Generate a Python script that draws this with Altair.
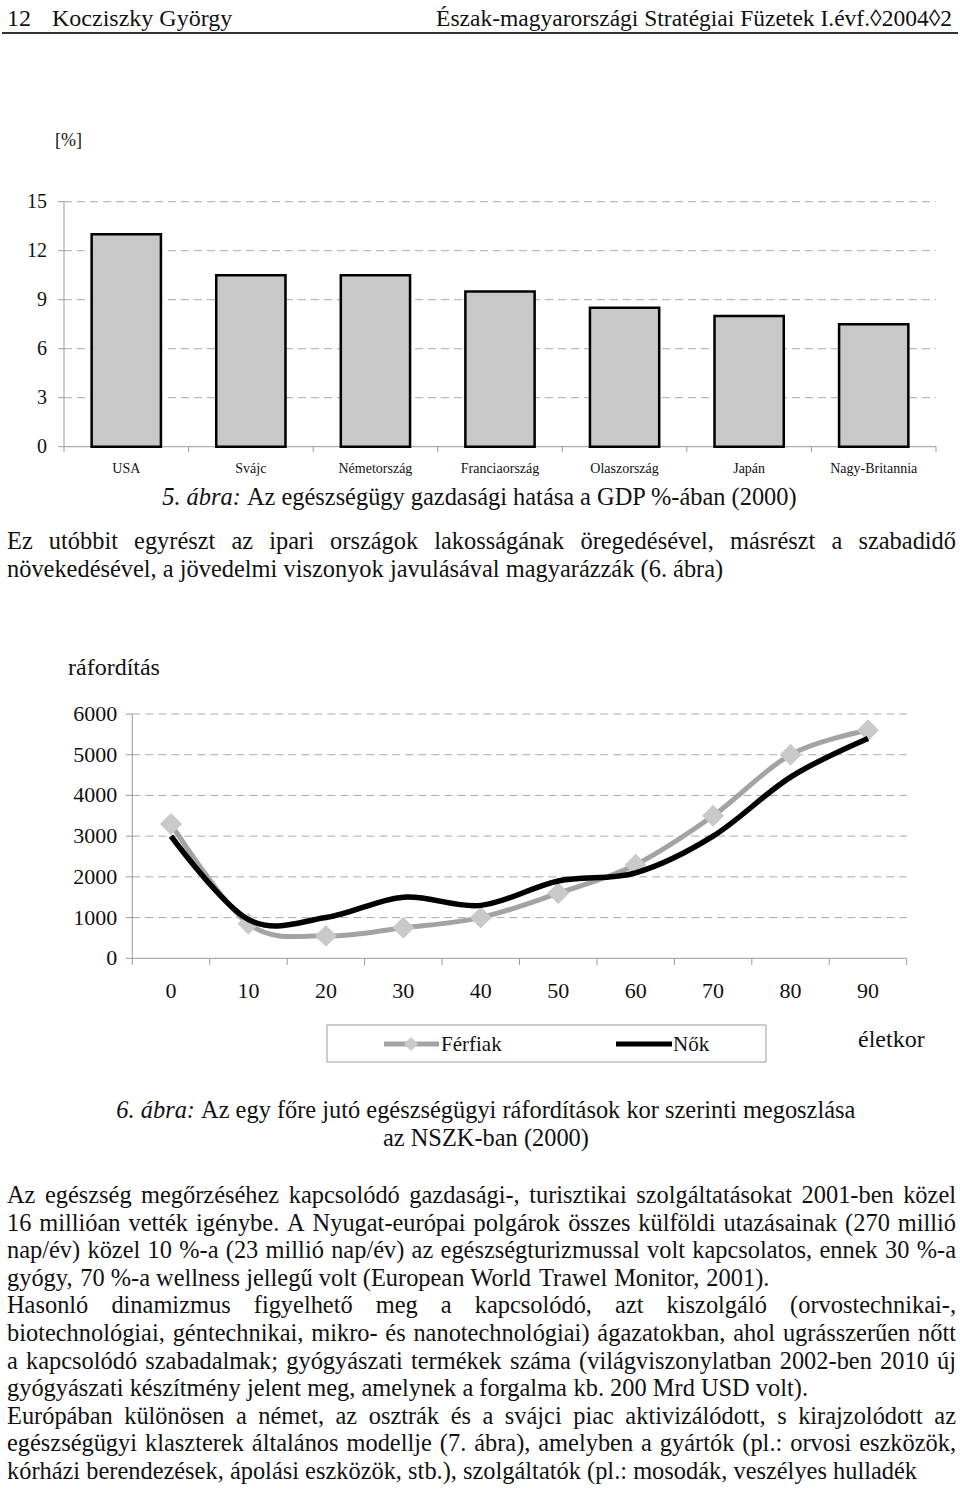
import altair as alt
import pandas as pd

# ---------------- data ----------------
countries = ["USA", "Svájc", "Németország", "Franciaország", "Olaszország", "Japán", "Nagy-Britannia"]
gdp_share = [13.0, 10.5, 10.5, 9.5, 8.5, 8.0, 7.5]
bar_ticks = [0, 3, 6, 9, 12, 15]

ages = [0, 10, 20, 30, 40, 50, 60, 70, 80, 90]
men = [3300, 850, 550, 750, 1000, 1600, 2300, 3500, 5000, 5600]
women = [3000, 950, 1000, 1500, 1300, 1900, 2100, 3000, 4450, 5400]
line_ticks = [0, 1000, 2000, 3000, 4000, 5000, 6000]
series_names = ["Férfiak", "Nők"]

header_left_no = "12"
header_author = "Kocziszky György"
header_right = "Észak-magyarországi Stratégiai Füzetek I.évf.◊2004◊2"
bar_unit = "[%]"
cap5_it = "5. ábra:"
cap5_txt = "Az egészségügy gazdasági hatása a GDP %-ában (2000)"
para1 = [
    ("Ez utóbbit egyrészt az ipari országok lakosságának öregedésével, másrészt a szabadidő", True),
    ("növekedésével, a jövedelmi viszonyok javulásával magyarázzák (6. ábra)", False),
]
line_ytitle = "ráfordítás"
line_xtitle = "életkor"
cap6_it = "6. ábra:"
cap6_txt1 = "Az egy főre jutó egészségügyi ráfordítások kor szerinti megoszlása"
cap6_txt2 = "az NSZK-ban (2000)"
para2 = [
    ("Az egészség megőrzéséhez kapcsolódó gazdasági-, turisztikai szolgáltatásokat 2001-ben közel", True),
    ("16 millióan vették igénybe. A Nyugat-európai polgárok összes külföldi utazásainak (270 millió", True),
    ("nap/év) közel 10 %-a (23 millió nap/év) az egészségturizmussal volt kapcsolatos, ennek 30 %-a", True),
    ("gyógy, 70 %-a wellness jellegű volt (European World Trawel Monitor, 2001).", False),
    ("Hasonló dinamizmus figyelhető meg a kapcsolódó, azt kiszolgáló (orvostechnikai-,", True),
    ("biotechnológiai, géntechnikai, mikro- és nanotechnológiai) ágazatokban, ahol ugrásszerűen nőtt", True),
    ("a kapcsolódó szabadalmak; gyógyászati termékek száma (világviszonylatban 2002-ben 2010 új", True),
    ("gyógyászati készítmény jelent meg, amelynek a forgalma kb. 200 Mrd USD volt).", False),
    ("Európában különösen a német, az osztrák és a svájci piac aktivizálódott, s kirajzolódott az", True),
    ("egészségügyi klaszterek általános modellje (7. ábra), amelyben a gyártók (pl.: orvosi eszközök,", True),
    ("kórházi berendezések, ápolási eszközök, stb.), szolgáltatók (pl.: mosodák, veszélyes hulladék", False),
]

# ---------------- text metrics (Times / Liberation Serif, 1/1000 em) ----------------
FONT = "Liberation Serif"
ROMAN = {}
for chars, w in [
    ("aceźzáéä", 444), ("bdghknopquvxy0123456789óöőúüű", 500), ("fr-()[]I", 333),
    ("ijlt:;/í", 278), ("sJ", 389), ("m", 778), ("wADGHKNOQUVXYÖÜÓ", 722), (" .,", 250),
    ("BCR", 667), ("ELTZÉ", 611), ("FPS", 556), ("M", 889), ("W", 944), ("%", 833), ("◊", 494),
]:
    for c in chars:
        ROMAN[c] = w
ITALIC = dict(ROMAN)
ITALIC.update({"a": 500, "á": 500, "b": 500, "r": 389, ":": 333})


def tw(s, size, italic=False):
    tab = ITALIC if italic else ROMAN
    return sum(tab.get(c, 500) for c in s) * size / 1000.0


BODY = 24.4
LEFT, RIGHT = 7, 956

rows_l, rows_r, rows_it = [], [], []


def place_line(text, y, justify, size=BODY):
    words = text.split(" ")
    widths = [tw(w, size) for w in words]
    if justify and len(words) > 1:
        gap = (RIGHT - LEFT - sum(widths)) / (len(words) - 1)
    else:
        gap = tw(" ", size)
    x = LEFT
    for i, (w, wd) in enumerate(zip(words, widths)):
        if justify and i == len(words) - 1:
            rows_r.append(dict(t=w, x=RIGHT, y=y, s=size))
        else:
            rows_l.append(dict(t=w, x=x, y=y, s=size))
        x += wd + gap


def caption(it, txt, cx, y, size=BODY):
    w_it = tw(it + " ", size, italic=True)
    total = w_it + tw(txt, size)
    x0 = cx - total / 2
    rows_it.append(dict(t=it, x=x0, y=y, s=size))
    rows_l.append(dict(t=txt, x=x0 + w_it, y=y, s=size))


# header
rows_l.append(dict(t=header_left_no, x=7, y=26, s=24))
rows_l.append(dict(t=header_author, x=52, y=26, s=24))
rows_r.append(dict(t=header_right, x=952, y=26, s=23.5))
# bar chart unit
rows_l.append(dict(t=bar_unit, x=55, y=146, s=18))
# caption 5 + paragraph 1
caption(cap5_it, cap5_txt, 480, 505)
for k, (ln, j) in enumerate(para1):
    place_line(ln, 549 + 28 * k, j)
# line chart titles
rows_l.append(dict(t=line_ytitle, x=68, y=675, s=24))
rows_l.append(dict(t=line_xtitle, x=858, y=1047, s=24))
# legend labels
rows_l.append(dict(t=series_names[0], x=441, y=1051, s=21))
rows_l.append(dict(t=series_names[1], x=673, y=1051, s=21))
# caption 6
caption(cap6_it, cap6_txt1, 486, 1118)
rows_l.append(dict(t=cap6_txt2, x=486 - tw(cap6_txt2, BODY) / 2, y=1146, s=BODY))
# paragraph 2
for k, (ln, j) in enumerate(para2):
    place_line(ln, 1203 + 27.6 * k, j)


def text_layer(rows, align, style="normal"):
    return alt.Chart(pd.DataFrame(rows)).mark_text(
        align=align, baseline="alphabetic", font=FONT, fontStyle=style, color="#111111"
    ).encode(
        x=alt.X("x:Q", scale=None, axis=None),
        y=alt.Y("y:Q", scale=None, axis=None),
        size=alt.Size("s:Q", scale=None, legend=None),
        text="t:N",
    )


texts = [text_layer(rows_l, "left"), text_layer(rows_r, "right"), text_layer(rows_it, "left", "italic")]

one = pd.DataFrame({"o": [0]})

# header rule
header_rule = alt.Chart(one).mark_rule(color="#333333", strokeWidth=2).encode(
    x=alt.value(2), x2=alt.value(958), y=alt.value(33)
)

# ---------------- bar chart ----------------
bx = alt.Scale(domain=[0, 7], range=[64, 936], nice=False, zero=False)
by = alt.Scale(domain=[0, 15], range=[446.7, 201.7], nice=False, zero=False)

bar_df = pd.DataFrame({"country": countries, "value": gdp_share})
bar_df["slot"] = range(len(bar_df))
bar_df["lo"] = bar_df["slot"] + 0.222
bar_df["hi"] = bar_df["slot"] + 0.778
bar_df["mid"] = bar_df["slot"] + 0.5
btick_df = pd.DataFrame({"v": bar_ticks})
bslot_df = pd.DataFrame({"k": list(range(len(countries) + 1))})

b_grid = alt.Chart(btick_df[btick_df.v > 0]).mark_rule(color="#aaaaaa", strokeDash=[8, 5], strokeWidth=1).encode(
    y=alt.Y("v:Q", scale=by, axis=None), x=alt.X(datum=0, scale=bx, axis=None), x2=alt.datum(7)
)
b_yaxis = alt.Chart(one).mark_rule(color="#999999", strokeWidth=1).encode(
    x=alt.X(datum=0, scale=bx, axis=None), y=alt.Y(datum=0, scale=by, axis=None), y2=alt.datum(15)
)
b_xaxis = alt.Chart(one).mark_rule(color="#999999", strokeWidth=1).encode(
    x=alt.X(datum=0, scale=bx, axis=None), x2=alt.datum(7), y=alt.Y(datum=0, scale=by, axis=None)
)
b_yticks = alt.Chart(btick_df).mark_rule(color="#999999", strokeWidth=1).encode(
    y=alt.Y("v:Q", scale=by, axis=None), x=alt.X(datum=0, scale=bx, axis=None), x2=alt.value(58)
)
b_xticks = alt.Chart(bslot_df).mark_rule(color="#999999", strokeWidth=1).encode(
    x=alt.X("k:Q", scale=bx, axis=None), y=alt.Y(datum=0, scale=by, axis=None), y2=alt.value(452)
)
b_bars = alt.Chart(bar_df).mark_bar(fill="#c8c8c8", stroke="#000000", strokeWidth=2.5).encode(
    x=alt.X("lo:Q", scale=bx, axis=None), x2="hi:Q",
    y=alt.Y("value:Q", scale=by, axis=None), y2=alt.datum(0)
)
b_ylab = alt.Chart(btick_df).mark_text(align="right", baseline="middle", font=FONT, fontSize=20, dx=-17, color="#111111").encode(
    x=alt.X(datum=0, scale=bx, axis=None), y=alt.Y("v:Q", scale=by, axis=None), text="v:Q"
)
b_xlab = alt.Chart(bar_df).mark_text(align="center", baseline="middle", font=FONT, fontSize=14, dy=22, color="#111111").encode(
    x=alt.X("mid:Q", scale=bx, axis=None), y=alt.Y(datum=0, scale=by, axis=None), text="country:N"
)
bar_chart = alt.layer(b_grid, b_yaxis, b_xaxis, b_yticks, b_xticks, b_bars, b_ylab, b_xlab)

# ---------------- line chart ----------------
lx = alt.Scale(domain=[-5, 95], range=[132.3, 906.7], nice=False, zero=False)
ly = alt.Scale(domain=[0, 6000], range=[958.3, 714], nice=False, zero=False)

line_df = pd.DataFrame({
    "age": ages * 2,
    "cost": men + women,
    "series": [series_names[0]] * len(ages) + [series_names[1]] * len(ages),
})
ltick_df = pd.DataFrame({"v": line_ticks})
lage_df = pd.DataFrame({"a": ages})
lbound_df = pd.DataFrame({"k": [a - 5 for a in ages] + [ages[-1] + 5]})

l_grid = alt.Chart(ltick_df[ltick_df.v > 0]).mark_rule(color="#aaaaaa", strokeDash=[8, 5], strokeWidth=1).encode(
    y=alt.Y("v:Q", scale=ly, axis=None), x=alt.X(datum=-5, scale=lx, axis=None), x2=alt.datum(95)
)
l_yaxis = alt.Chart(one).mark_rule(color="#999999", strokeWidth=1).encode(
    x=alt.X(datum=-5, scale=lx, axis=None), y=alt.Y(datum=0, scale=ly, axis=None), y2=alt.datum(6000)
)
l_xaxis = alt.Chart(one).mark_rule(color="#999999", strokeWidth=1).encode(
    x=alt.X(datum=-5, scale=lx, axis=None), x2=alt.datum(95), y=alt.Y(datum=0, scale=ly, axis=None)
)
l_yticks = alt.Chart(ltick_df).mark_rule(color="#999999", strokeWidth=1).encode(
    y=alt.Y("v:Q", scale=ly, axis=None), x=alt.X(datum=-5, scale=lx, axis=None), x2=alt.value(126)
)
l_xticks = alt.Chart(lbound_df).mark_rule(color="#999999", strokeWidth=1).encode(
    x=alt.X("k:Q", scale=lx, axis=None), y=alt.Y(datum=0, scale=ly, axis=None), y2=alt.value(965)
)
l_men = alt.Chart(line_df).transform_filter(alt.datum.series == series_names[0]).mark_line(
    color="#a3a3a3", strokeWidth=5, interpolate="cardinal", tension=0
).encode(x=alt.X("age:Q", scale=lx, axis=None), y=alt.Y("cost:Q", scale=ly, axis=None))
l_men_pts = alt.Chart(line_df).transform_filter(alt.datum.series == series_names[0]).mark_point(
    shape="diamond", filled=True, size=480, color="#c9c9c9", opacity=1
).encode(x=alt.X("age:Q", scale=lx, axis=None), y=alt.Y("cost:Q", scale=ly, axis=None))
l_women = alt.Chart(line_df).transform_filter(alt.datum.series == series_names[1]).mark_line(
    color="#000000", strokeWidth=5.5, interpolate="cardinal", tension=0
).encode(x=alt.X("age:Q", scale=lx, axis=None), y=alt.Y("cost:Q", scale=ly, axis=None))
l_ylab = alt.Chart(ltick_df).mark_text(align="right", baseline="middle", font=FONT, fontSize=22, dx=-15, color="#111111").encode(
    x=alt.X(datum=-5, scale=lx, axis=None), y=alt.Y("v:Q", scale=ly, axis=None), text="v:Q"
)
l_xlab = alt.Chart(lage_df).mark_text(align="center", baseline="middle", font=FONT, fontSize=22, dy=33, color="#111111").encode(
    x=alt.X("a:Q", scale=lx, axis=None), y=alt.Y(datum=0, scale=ly, axis=None), text="a:Q"
)
line_chart = alt.layer(l_grid, l_yaxis, l_xaxis, l_yticks, l_xticks, l_men, l_men_pts, l_women, l_ylab, l_xlab)

# ---------------- legend ----------------
leg_box = alt.Chart(one).mark_rect(fillOpacity=0, stroke="#9a9a9a", strokeWidth=1).encode(
    x=alt.value(327), x2=alt.value(766), y=alt.value(1025), y2=alt.value(1062)
)
leg_men = alt.Chart(one).mark_rule(color="#a3a3a3", strokeWidth=5).encode(
    x=alt.value(384), x2=alt.value(439), y=alt.value(1044)
)
leg_men_pt = alt.Chart(one).mark_point(shape="diamond", filled=True, size=200, color="#c9c9c9", opacity=1).encode(
    x=alt.value(411), y=alt.value(1044)
)
leg_women = alt.Chart(one).mark_rule(color="#000000", strokeWidth=5).encode(
    x=alt.value(616), x2=alt.value(672), y=alt.value(1044)
)

chart = alt.layer(
    header_rule, bar_chart, line_chart, leg_box, leg_men, leg_men_pt, leg_women, *texts
).resolve_scale(x="independent", y="independent").properties(
    width=960, height=1489, padding=0, autosize=alt.AutoSizeParams(type="none"), background="white"
).configure_view(stroke=None)

chart.save("out.html", embed_options={"renderer": "svg", "actions": False})
